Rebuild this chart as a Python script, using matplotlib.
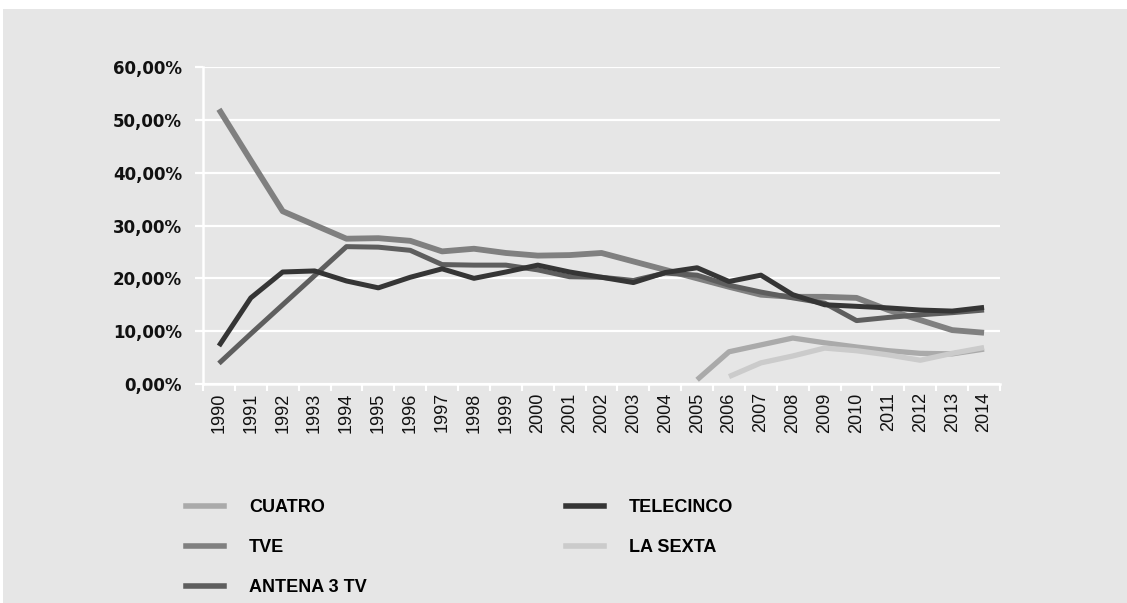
import numpy as np
import matplotlib.pyplot as plt
from matplotlib.patches import Rectangle
from matplotlib.lines import Line2D
from matplotlib.ticker import FixedLocator, FuncFormatter

# Audiencia anual por cadena (%)
anos = list(range(1990, 2015))

tve = [52.0, 42.3, 32.7, 30.1, 27.5, 27.6, 27.1, 25.1, 25.6, 24.8, 24.3, 24.4, 24.8,
       23.2, 21.6, 20.0, 18.4, 16.9, 16.5, 16.5, 16.3, 14.0, 12.1, 10.2, 9.7]
antena3 = [3.9, 9.5, 15.0, 20.5, 26.0, 25.9, 25.3, 22.6, 22.5, 22.5, 21.6, 20.3, 20.2,
           19.6, 21.0, 20.6, 18.7, 17.4, 16.3, 15.3, 12.0, 12.6, 13.1, 13.5, 14.0]
telecinco = [7.2, 16.3, 21.2, 21.4, 19.5, 18.2, 20.2, 21.8, 20.0, 21.2, 22.5, 21.2, 20.2,
             19.2, 21.1, 22.0, 19.4, 20.6, 16.9, 15.0, 14.7, 14.4, 14.0, 13.8, 14.5]
cuatro_anos = list(range(2005, 2015))
cuatro = [0.8, 6.1, 7.4, 8.7, 7.8, 7.0, 6.3, 5.8, 5.7, 6.6]
lasexta_anos = list(range(2006, 2015))
lasexta = [1.4, 4.0, 5.3, 6.8, 6.3, 5.5, 4.5, 5.8, 6.9]

col_cuatro = '#aaaaaa'
col_tve = '#808080'
col_antena = '#5e5e5e'
col_tele = '#353535'
col_sexta = '#cbcbcb'

fig = plt.figure(figsize=(11.27, 6.03), dpi=100)
fig.patches.append(Rectangle((3 / 1127, 0), 1, 1 - 9 / 603, transform=fig.transFigure,
                             facecolor='#e6e6e6', edgecolor='none', zorder=-10))

ax = fig.add_axes([203 / 1127, 1 - 384 / 603, 797 / 1127, 317 / 603])
ax.set_facecolor('none')

ax.plot(cuatro_anos, cuatro, color=col_cuatro, lw=3.8, solid_capstyle='butt', zorder=3)
ax.plot(lasexta_anos, lasexta, color=col_sexta, lw=3.8, solid_capstyle='butt', zorder=3)
ax.plot(anos, tve, color=col_tve, lw=4.2, solid_capstyle='butt', zorder=4)
ax.plot(anos, antena3, color=col_antena, lw=3.6, solid_capstyle='butt', zorder=5)
ax.plot(anos, telecinco, color=col_tele, lw=3.6, solid_capstyle='butt', zorder=6)

ax.set_xlim(1989.5, 2014.5)
ax.set_ylim(0, 60)

ax.set_yticks(np.arange(0, 61, 10))
ax.yaxis.set_major_formatter(FuncFormatter(lambda v, p: f'{v:.2f}%'.replace('.', ',')))
ax.grid(axis='y', color='white', lw=1.6)
ax.set_axisbelow(True)

ax.set_xticks(anos)
ax.set_xticklabels([str(a) for a in anos], rotation=90)
for lbl in ax.get_xticklabels():
    lbl.set_fontsize(13)
    lbl.set_family('Liberation Sans')
    lbl.set_color('#111111')
ax.xaxis.set_minor_locator(FixedLocator(np.arange(1989.5, 2015, 1.0)))
ax.tick_params(axis='x', which='major', length=0, pad=6)
ax.tick_params(axis='x', which='minor', length=5, width=1.5, color='white')
ax.tick_params(axis='y', length=6, width=1.6, color='white', pad=9)
for lbl in ax.get_yticklabels():
    lbl.set_fontsize(12)
    lbl.set_fontweight('bold')
    lbl.set_color('#111111')

for s in ['top', 'right']:
    ax.spines[s].set_visible(False)
for s in ['left', 'bottom']:
    ax.spines[s].set_color('white')
    ax.spines[s].set_linewidth(1.8)

# Leyenda en dos columnas
leg_kw = dict(frameon=False, handlelength=2.1, handletextpad=1.4, labelspacing=1.28,
              prop={'family': 'Liberation Sans', 'weight': 'bold', 'size': 13},
              loc='upper left', borderaxespad=0, borderpad=0)
h1 = [Line2D([], [], color=col_cuatro, lw=4), Line2D([], [], color=col_tve, lw=4),
      Line2D([], [], color=col_antena, lw=4)]
fig.legend(h1, ['CUATRO', 'TVE', 'ANTENA 3 TV'],
           bbox_to_anchor=(186 / 1127, 1 - 499 / 603), **leg_kw)
h2 = [Line2D([], [], color=col_tele, lw=4), Line2D([], [], color=col_sexta, lw=4)]
fig.legend(h2, ['TELECINCO', 'LA SEXTA'],
           bbox_to_anchor=(566 / 1127, 1 - 499 / 603), **leg_kw)

fig.savefig('out.png', dpi=100, facecolor='white')
